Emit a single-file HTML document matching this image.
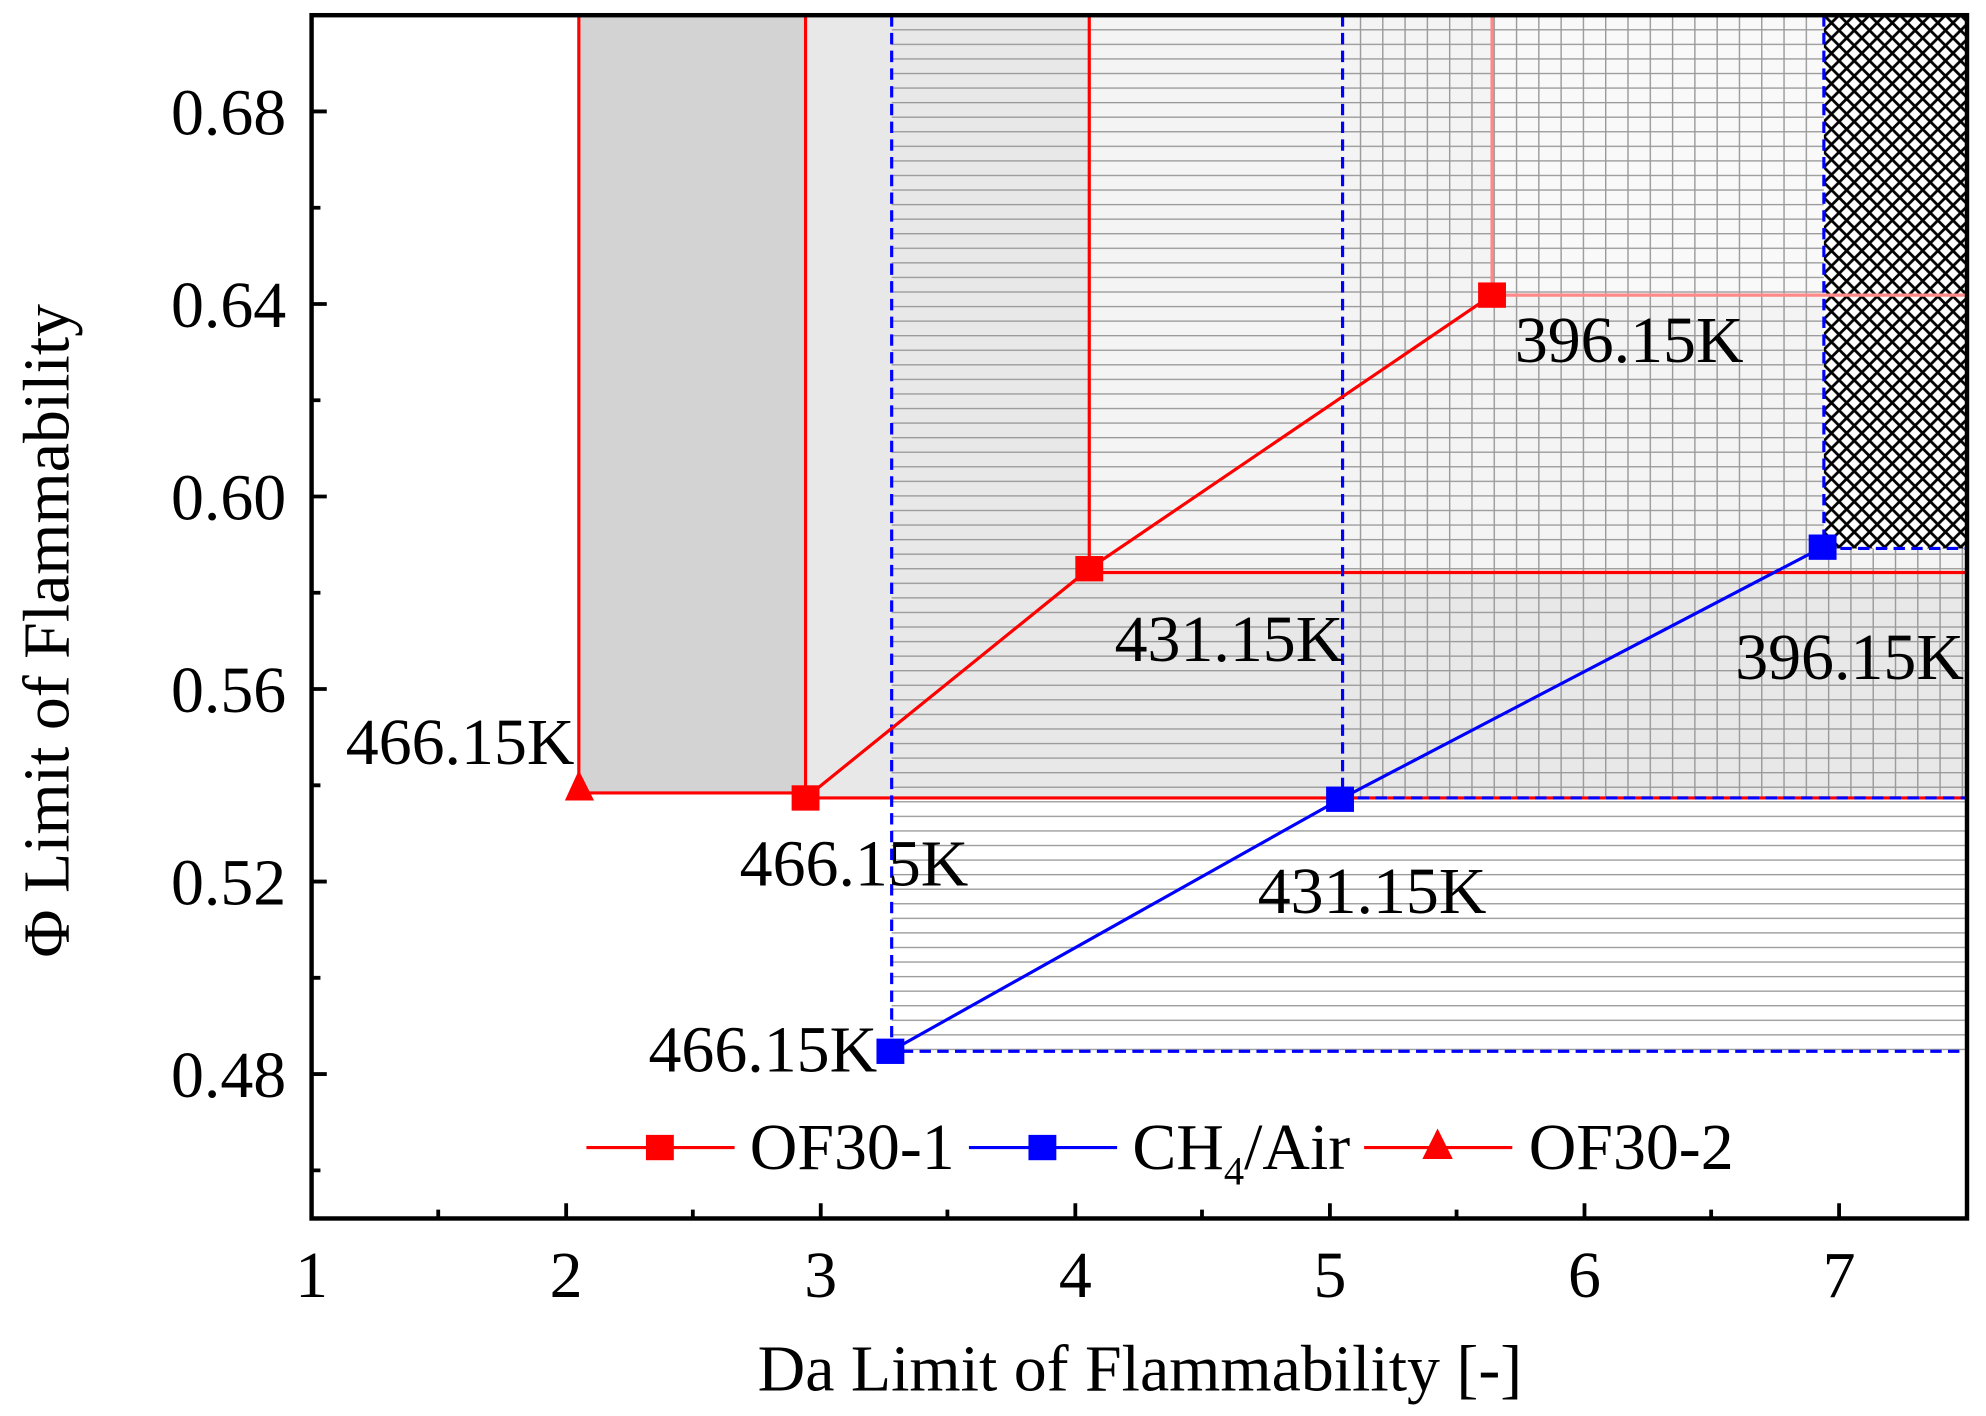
<!DOCTYPE html>
<html><head><style>html,body{margin:0;padding:0;background:#fff}</style></head>
<body>
<svg width="1986" height="1411" viewBox="0 0 1568 1114" preserveAspectRatio="none" xmlns="http://www.w3.org/2000/svg" font-family="Liberation Serif, serif">
<defs>
<pattern id="h" width="20" height="11.5" patternUnits="userSpaceOnUse"><line x1="0" y1="0.5" x2="20" y2="0.5" stroke="#999" stroke-width="1.2"/></pattern>
<pattern id="v" width="17.6" height="20" patternUnits="userSpaceOnUse"><line x1="0.5" y1="0" x2="0.5" y2="20" stroke="#999" stroke-width="1.2"/></pattern>
<pattern id="x" width="12" height="12" patternUnits="userSpaceOnUse"><path d="M0 0L12 12M12 0L0 12" stroke="#000" stroke-width="2.2"/></pattern>
</defs>
<rect x="457" y="12" width="179" height="614" fill="#d3d3d3"/>
<rect x="636" y="12" width="424" height="618" fill="#e8e8e8"/>
<rect x="860" y="12" width="693" height="440" fill="#f4f4f4"/>
<rect x="1178" y="12" width="375" height="221" fill="#f9f9f9"/>
<rect x="1060" y="452" width="493" height="178" fill="#e8e8e8"/>
<rect x="704" y="12" width="849" height="818" fill="url(#h)"/>
<rect x="1060" y="12" width="493" height="618" fill="url(#v)"/>
<rect x="1440" y="12" width="113" height="421" fill="#fff"/>
<rect x="1440" y="12" width="113" height="421" fill="url(#x)"/>
<g stroke="#f00" stroke-width="2.5" fill="none">
<path d="M457 12V626H636M636 12V630H1553M860 12V452H1553"/>
<path d="M1178 12V233H1553" stroke="#f88"/>
</g>
<g stroke="#00f" stroke-width="2.5" fill="none" stroke-dasharray="9,5">
<path d="M704 12V830H1553M1060 12V630H1553M1440 12V433H1553"/>
</g>
<polyline points="636,630 860,449 1178,233" fill="none" stroke="#f00" stroke-width="2.5"/>
<polyline points="703,830 1058,631 1439,432" fill="none" stroke="#00f" stroke-width="2.5"/>
<g fill="#f00"><rect x="625" y="620" width="22" height="20"/><rect x="849" y="439" width="22" height="20"/><rect x="1167" y="223" width="22" height="20"/><path d="M446 632L457 608L469 632Z"/></g>
<g fill="#00f"><rect x="692" y="820" width="22" height="20"/><rect x="1047" y="621" width="22" height="20"/><rect x="1428" y="422" width="22" height="20"/></g>
<g font-size="52" fill="#000">
<text x="273" y="603">466.15K</text>
<text x="584" y="699">466.15K</text>
<text x="1196" y="286">396.15K</text>
<text x="880" y="522">431.15K</text>
<text x="1370" y="536">396.15K</text>
<text x="993" y="721">431.15K</text>
<text x="512" y="846">466.15K</text>
</g>
<g stroke-width="2.5">
<line x1="463" y1="906" x2="580" y2="906" stroke="#f00"/><rect x="510" y="896" width="22" height="20" fill="#f00"/>
<line x1="765" y1="906" x2="882" y2="906" stroke="#00f"/><rect x="812" y="896" width="22" height="20" fill="#00f"/>
<line x1="1077" y1="906" x2="1194" y2="906" stroke="#f00"/><path d="M1123 915L1135 891L1147 915Z" fill="#f00"/>
</g>
<g font-size="52"><text x="592" y="923">OF30-1</text><text x="894" y="923">CH<tspan font-size="32" dy="12">4</tspan><tspan dy="-12">/Air</tspan></text><text x="1207" y="923">OF30-2</text></g>
<rect x="246" y="12" width="1307" height="950" fill="none" stroke="#000" stroke-width="3.5"/>
<g stroke="#000" stroke-width="3">
<path d="M246 88h12M246 240h12M246 392h12M246 544h12M246 696h12M246 848h12M246 164h7M246 316h7M246 468h7M246 620h7M246 772h7M246 924h7"/>
<path d="M447 962v-12M648 962v-12M849 962v-12M1050 962v-12M1251 962v-12M1452 962v-12M346 962v-7M547 962v-7M748 962v-7M949 962v-7M1150 962v-7M1351 962v-7"/>
</g>
<g font-size="52" text-anchor="middle">
<text x="246" y="1024">1</text><text x="447" y="1024">2</text><text x="648" y="1024">3</text><text x="849" y="1024">4</text><text x="1050" y="1024">5</text><text x="1251" y="1024">6</text><text x="1452" y="1024">7</text>
</g>
<g font-size="52" text-anchor="end">
<text x="226" y="106">0.68</text><text x="226" y="258">0.64</text><text x="226" y="410">0.60</text><text x="226" y="562">0.56</text><text x="226" y="714">0.52</text><text x="226" y="866">0.48</text>
</g>
<text x="900" y="1098" font-size="52" text-anchor="middle">Da Limit of Flammability [-]</text>
<text transform="translate(54,498) rotate(-90)" font-size="52" text-anchor="middle">Φ Limit of Flammability</text>
</svg>
</body></html>
